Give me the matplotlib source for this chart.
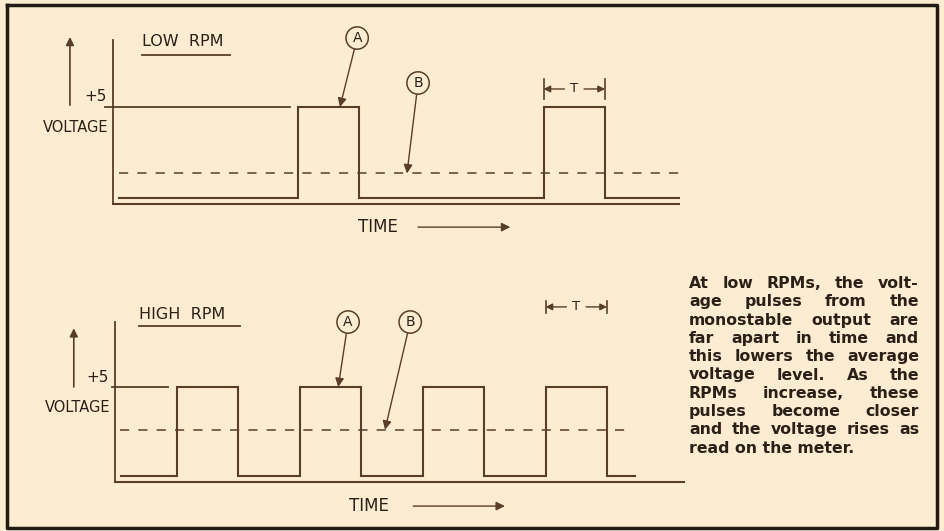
import matplotlib
matplotlib.use('Agg')
import matplotlib.pyplot as plt

# ---------------------------------------------------------------------------
# data (time in units of the pulse width T, voltage in volts)
low_rpm_t = [0.1, 3, 3, 4, 4, 7, 7, 8, 8, 9.2]
low_rpm_v = [0, 0, 5, 5, 0, 0, 5, 5, 0, 0]
high_rpm_t = [0.1, 1, 1, 2, 2, 3, 3, 4, 4, 5, 5, 6, 6, 7, 7, 8, 8, 8.45]
high_rpm_v = [0, 0, 5, 5, 0, 0, 5, 5, 0, 0, 5, 5, 0, 0, 5, 5, 0, 0]
low_rpm_avg = 1.35
high_rpm_avg = 2.6
low_rpm_avg_span = [0.1, 9.2]
high_rpm_avg_span = [0.08, 8.3]
low_rpm_ref_span = [-0.13, 2.88]
high_rpm_ref_span = [-0.05, 0.86]
t_marker = [7, 8]
panel_titles = ['LOW  RPM', 'HIGH  RPM']

caption_lines = [
    'At low RPMs, the volt-',
    'age pulses from the',
    'monostable output are',
    'far apart in time and',
    'this lowers the average',
    'voltage level. As the',
    'RPMs increase, these',
    'pulses become closer',
    'and the voltage rises as',
    'read on the meter.',
]

BG = '#fcedd2'
LINE = '#5a3c2b'
INK = '#2a2018'
W, H = 944, 531

fig = plt.figure(figsize=(W / 100, H / 100), dpi=100)
fig.patch.set_facecolor(BG)


# ===========================================================================
def make_panel(top_px, bottom_px, x0_px, v0_px, px_per_t, px_per_v):
    ax = fig.add_axes([0, 1 - bottom_px / H, 1, (bottom_px - top_px) / H])
    ax.set_xlim(-x0_px / px_per_t, (W - x0_px) / px_per_t)
    ax.set_ylim(-(bottom_px - v0_px) / px_per_v, (v0_px - top_px) / px_per_v)
    ax.axis('off')
    ax.patch.set_alpha(0)
    return ax


def draw_panel(ax, t, v, avg, avg_span, ref_span, title, title_v, ul_v, ul_span,
               axis_end, axis_top, up_arrow, a_circle, a_tip, b_circle, b_tip,
               t_v, t_half, time_xy, time_arrow):
    # axes
    ax.plot([0, 0], [-0.35, axis_top], color=LINE, lw=1.3)
    ax.plot([0, axis_end], [-0.35, -0.35], color=LINE, lw=1.5)
    # +5 reference line
    ax.plot(ref_span, [5, 5], color=LINE, lw=1.3)
    # waveform
    ax.plot(t, v, color=LINE, lw=1.5, solid_joinstyle='miter')
    # average
    ax.plot(avg_span, [avg, avg], color=LINE, lw=1.1, linestyle=(0, (6, 6)))

    ax.text(-0.1, 5.55, '+5', ha='right', va='center', fontsize=11, color=INK)
    ax.text(-0.08, 3.85, 'VOLTAGE', ha='right', va='center', fontsize=10.5,
            color=INK)
    ax.annotate('', xy=(up_arrow[0], up_arrow[2]), xytext=(up_arrow[0], up_arrow[1]),
                arrowprops=dict(arrowstyle='-|>', color=LINE, lw=1.2,
                                mutation_scale=12, shrinkA=0, shrinkB=0))

    ax.text(ul_span[0], title_v, title, ha='left', va='center', fontsize=11.5,
            color=INK)
    ax.plot(ul_span, [ul_v, ul_v], color=LINE, lw=1.3)

    # circled labels
    for label, c, tip in (('A', a_circle, a_tip), ('B', b_circle, b_tip)):
        ax.annotate(label, xy=tip, xytext=c, ha='center', va='center',
                    fontsize=10, color=INK,
                    bbox=dict(boxstyle='circle,pad=0.3', fc=BG, ec=LINE, lw=1.1),
                    arrowprops=dict(arrowstyle='-|>', color=LINE, lw=1.0,
                                    mutation_scale=13, shrinkA=0, shrinkB=0))

    # pulse width marker
    ax.plot([t_marker[0]] * 2, [t_v - t_half, t_v + t_half], color=LINE, lw=1.2)
    ax.plot([t_marker[1]] * 2, [t_v - t_half, t_v + t_half], color=LINE, lw=1.2)
    mid = (t_marker[0] + t_marker[1]) / 2
    ax.text(mid, t_v, 'T', ha='center', va='center', fontsize=9.5, color=INK)
    for s, e in ((mid - 0.16, t_marker[0]), (mid + 0.16, t_marker[1])):
        ax.annotate('', xy=(e, t_v), xytext=(s, t_v),
                    arrowprops=dict(arrowstyle='-|>', color=LINE, lw=1.0,
                                    mutation_scale=10, shrinkA=0, shrinkB=0))

    # time label
    ax.text(time_xy[0], time_xy[1], 'TIME', ha='center', va='center', fontsize=12,
            color=INK)
    ax.annotate('', xy=(time_arrow[1], time_xy[1]), xytext=(time_arrow[0], time_xy[1]),
                arrowprops=dict(arrowstyle='-|>', color=LINE, lw=1.0,
                                mutation_scale=13, shrinkA=0, shrinkB=0))


# [1] low rpm
ax1 = make_panel(0, 265.5, 113, 198, 61.5, 18.2)
draw_panel(ax1, low_rpm_t, low_rpm_v, low_rpm_avg, low_rpm_avg_span, low_rpm_ref_span,
           panel_titles[0], 8.6, 7.86, [0.47, 1.9], 9.2, 8.7, (-0.70, 5.1, 8.85),
           (3.97, 8.79), (3.69, 5.0), (4.96, 6.32), (4.78, low_rpm_avg),
           5.99, 0.55, (4.31, -1.6), (4.96, 6.46))

# [2] high rpm
ax2 = make_panel(265.5, 531, 115, 476, 61.5, 17.8)
draw_panel(ax2, high_rpm_t, high_rpm_v, high_rpm_avg, high_rpm_avg_span, high_rpm_ref_span,
           panel_titles[1], 9.1, 8.43, [0.39, 2.03], 9.25, 8.65, (-0.67, 5.0, 8.3),
           (3.79, 8.65), (3.63, 5.0), (4.80, 8.65), (4.39, high_rpm_avg),
           9.5, 0.33, (4.13, -1.69), (4.85, 6.34))

# ===========================================================================
# frame
frame = fig.add_axes([0, 0, 1, 1])
frame.set_xlim(0, W)
frame.set_ylim(H, 0)
frame.axis('off')
frame.patch.set_alpha(0)
frame.plot([7, 937, 937, 7, 7], [5, 5, 528, 528, 5], color='#221a14', lw=2.5)

# justified caption
renderer = fig.canvas.get_renderer()
left, right = 689, 919
font = dict(fontsize=11.3, fontweight='bold', family='DejaVu Sans', color=INK)
for i, line in enumerate(caption_lines):
    y = 283.5 + i * 18.3
    words = line.split(' ')
    if i == len(caption_lines) - 1:
        frame.text(left, y, line, ha='left', va='center', **font)
        continue
    arts = [frame.text(0, y, w, ha='left', va='center', **font) for w in words]
    widths = [a.get_window_extent(renderer).width for a in arts]
    gap = (right - left - sum(widths)) / (len(words) - 1)
    x = left
    for a, w in zip(arts, widths):
        a.set_x(x)
        x += w + gap

fig.savefig('out.png', dpi=100, facecolor=BG)
